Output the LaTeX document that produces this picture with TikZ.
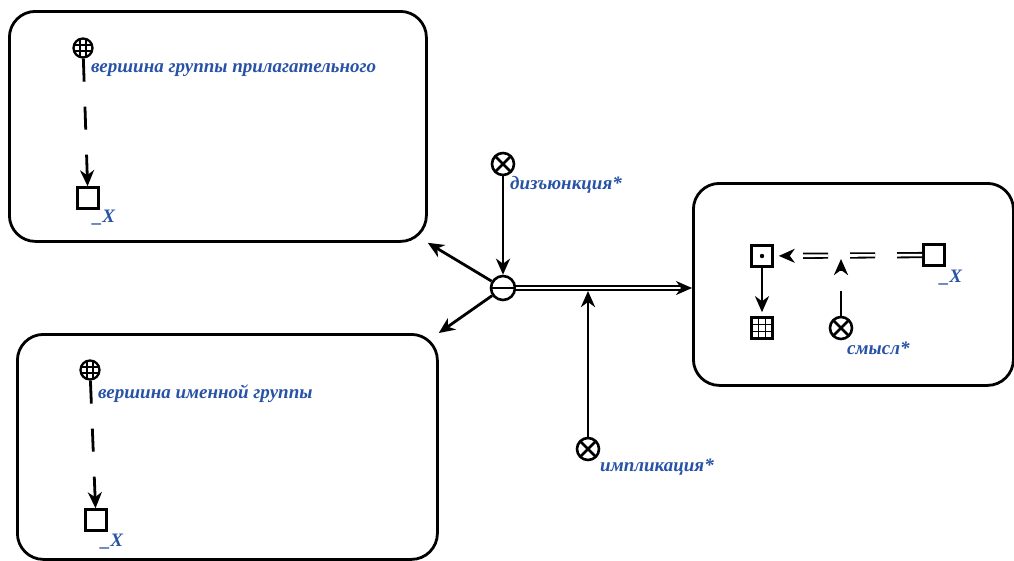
\documentclass[tikz,border=0pt]{standalone}
\usepackage{fontspec}
\setmainfont{Liberation Serif}
\usetikzlibrary{arrows.meta}
\definecolor{lblblue}{RGB}{40,82,165}
\begin{document}
\begin{tikzpicture}[x=1pt,y=-1pt,
  box/.style={draw, line width=2.8pt, rounded corners=26pt, inner sep=0pt, anchor=north west},
  sq/.style={draw, line width=2.6pt, minimum size=21pt, inner sep=0pt},
  dsq/.style={sq, path picture={\fill (path picture bounding box.center) circle (2.2pt);}},
  gsq/.style={sq, path picture={
     \draw[line width=1.3pt] ([xshift=-3.5pt]path picture bounding box.north) -- ([xshift=-3.5pt]path picture bounding box.south)
       ([xshift=3.5pt]path picture bounding box.north) -- ([xshift=3.5pt]path picture bounding box.south)
       ([yshift=-3.5pt]path picture bounding box.west) -- ([yshift=-3.5pt]path picture bounding box.east)
       ([yshift=3.5pt]path picture bounding box.west) -- ([yshift=3.5pt]path picture bounding box.east);}},
  cross/.style={circle, draw, line width=2.6pt, minimum size=22pt, inner sep=0pt, path picture={
     \draw[line width=2.6pt] (path picture bounding box.north west) -- (path picture bounding box.south east)
       (path picture bounding box.north east) -- (path picture bounding box.south west);}},
  cminus/.style={circle, draw, line width=2.6pt, minimum size=24pt, inner sep=0pt, path picture={
     \draw[line width=2.6pt] (path picture bounding box.west) -- (path picture bounding box.east);}},
  globe/.style={circle, draw, line width=2.3pt, minimum size=19pt, inner sep=0pt, path picture={
     \draw[line width=1.2pt] ([xshift=-3pt]path picture bounding box.north) -- ([xshift=-3pt]path picture bounding box.south)
       ([xshift=3pt]path picture bounding box.north) -- ([xshift=3pt]path picture bounding box.south)
       ([yshift=-3pt]path picture bounding box.west) -- ([yshift=-3pt]path picture bounding box.east)
       ([yshift=3pt]path picture bounding box.west) -- ([yshift=3pt]path picture bounding box.east);}},
  mytip/.tip={Stealth[length=16pt,width=14pt,inset=5pt]},
  arr/.style={line width=2.8pt, -mytip},
  dasharr/.style={line width=2.8pt, -mytip, dash pattern=on 23pt off 25pt},
  dbl/.style={double, double distance=2.6pt, line width=1.8pt},
  lbl/.style={text=lblblue, font=\fontsize{19}{22}\selectfont\bfseries\itshape, inner sep=0pt}
]
\useasboundingbox (0,0) rectangle (1014,560);

% boxes
\node[box, minimum width=417pt, minimum height=230pt] (TL) at (8,10) {};
\node[box, minimum width=420pt, minimum height=225pt] (BL) at (16,333) {};
\node[box, minimum width=320pt, minimum height=202pt] (RB) at (692,182) {};

% top-left box
\node[globe] (g1) at (83,48) {};
\node[sq] (s1) at (88,198) {};
\draw[dasharr] (g1) -- (s1);
\node[lbl, anchor=west] (l1) at (91,70) {вершина группы прилагательного};
\node[lbl] (x1) at (104,218) {\_X};

% bottom-left box
\node[globe] (g2) at (90,370) {};
\node[sq] (s2) at (96,520) {};
\draw[dasharr] (g2) -- (s2);
\node[lbl, anchor=west] (l2) at (98,394) {вершина именной группы};
\node[lbl] (x2) at (112,542) {\_X};

% centre
\node[cminus] (O) at (503,288) {};
\node[cross] (D) at (503,164) {};
\draw[arr] (D) -- (O);
\node[lbl, anchor=west] (ld) at (510,185) {дизъюнкция*};
\draw[arr] (O) -- (TL.south east);
\draw[arr] (O) -- (BL.north east);
\draw[dbl, -{Stealth[length=16pt,width=14pt,inset=5pt]}] (O) -- (O -| RB.west);
\node[cross] (I) at (588,449) {};
\draw[arr, shorten >=3pt] (I) -- (I |- O);
\node[lbl, anchor=west] (li) at (600,467) {импликация*};

% right box
\node[dsq] (P) at (762,256) {};
\node[gsq] (G) at (762,328) {};
\node[cross] (S) at (841,328) {};
\node[sq] (Q) at (934,255) {};
\draw[arr, shorten >=4pt] (P) -- (G);
\draw[line width=2.8pt, dash pattern=on 25pt off 20pt, -mytip, shorten >=3pt] (S) -- (S |- P);
\draw[dbl, dash pattern=on 25pt off 22pt, -mytip, shorten >=5pt] (Q) -- (P);
\node[lbl, anchor=west] (ls) at (847,348) {смысл*};
\node[lbl] (x3) at (951,278) {\_X};
\end{tikzpicture}
\end{document}
